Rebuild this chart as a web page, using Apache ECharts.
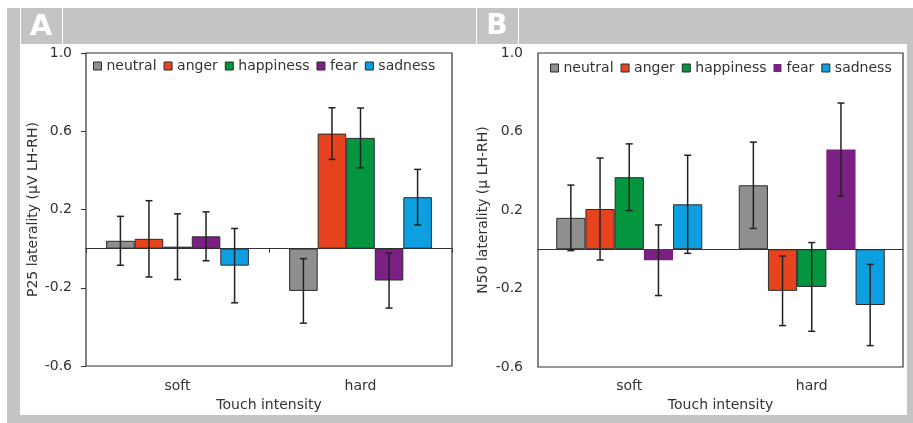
<!DOCTYPE html>
<html>
<head>
<meta charset="utf-8">
<script src="https://cdn.jsdelivr.net/npm/echarts@6/dist/echarts.min.js"></script>
<style>
html,body{margin:0;padding:0;background:#fff;}
#chart{width:913px;height:423px;}
</style>
</head>
<body>
<div id="chart"></div>
<script>
// ---- data ----
const categories = ['soft', 'hard'];
const emotions = ['neutral', 'anger', 'happiness', 'fear', 'sadness'];
const yTicks = [-0.6, -0.2, 0.2, 0.6, 1.0];

// Panel A: P25 laterality (values per emotion: [soft, hard])
const neutralA   = [0.040, -0.216];
const angerA     = [0.050,  0.588];
const happinessA = [0.010,  0.566];
const fearA      = [0.063, -0.163];
const sadnessA   = [-0.087, 0.263];
const neutralErrA   = [0.125, 0.165];
const angerErrA     = [0.195, 0.132];
const happinessErrA = [0.168, 0.153];
const fearErrA      = [0.125, 0.141];
const sadnessErrA   = [0.190, 0.142];

// Panel B: N50 laterality
const neutralB   = [0.160,  0.326];
const angerB     = [0.205, -0.212];
const happinessB = [0.367, -0.192];
const fearB      = [-0.056, 0.508];
const sadnessB   = [0.229, -0.284];
const neutralErrB   = [0.167, 0.220];
const angerErrB     = [0.260, 0.177];
const happinessErrB = [0.170, 0.226];
const fearErrB      = [0.180, 0.237];
const sadnessErrB   = [0.250, 0.207];

// ---- styling ----
const colors = ['#8f8f8f', '#e8431f', '#03963f', '#7b2184', '#0e9fe0'];
const FONT = 'DejaVu Sans';
const TXT = '#333333';
const EDGE = '#2a2a2a';
const gapA = 0.22, gapB = 0.20;

const valsA = [neutralA, angerA, happinessA, fearA, sadnessA];
const errsA = [neutralErrA, angerErrA, happinessErrA, fearErrA, sadnessErrA];
const valsB = [neutralB, angerB, happinessB, fearB, sadnessB];
const errsB = [neutralErrB, angerErrB, happinessErrB, fearErrB, sadnessErrB];

function errData(vals, errs) {
  const out = [];
  vals.forEach((arr, k) => arr.forEach((v, c) => out.push([c, v, errs[k][c], k])));
  return out;
}
function errRender(gap) {
  return function (params, api) {
    const c = api.value(0), v = api.value(1), e = api.value(2), k = api.value(3);
    const band = api.size([1, 0])[0];
    const bw = band * (1 - gap) / 5;
    const x = api.coord([c, 0])[0] + (k - 2) * bw;
    const yt = api.coord([c, v + e])[1];
    const yb = api.coord([c, v - e])[1];
    const hw = 3.5;
    const st = { stroke: '#222', lineWidth: 1.5 };
    return { type: 'group', children: [
      { type: 'line', shape: { x1: x, y1: yt, x2: x, y2: yb }, style: st },
      { type: 'line', shape: { x1: x - hw, y1: yt, x2: x + hw, y2: yt }, style: st },
      { type: 'line', shape: { x1: x - hw, y1: yb, x2: x + hw, y2: yb }, style: st }
    ]};
  };
}

function yAxisCfg(grid, name, nameGap, showTick, margin) {
  return {
    type: 'value', gridIndex: grid, min: -0.6, max: 1.0,
    name: name, nameLocation: 'middle', nameGap: nameGap,
    nameTextStyle: { fontFamily: FONT, fontSize: 14, color: TXT },
    axisLine: { show: false },
    axisTick: { show: showTick, length: 5, lineStyle: { color: '#333', width: 1 }, customValues: yTicks },
    axisLabel: { fontFamily: FONT, fontSize: 14, color: TXT, margin: margin,
      customValues: yTicks, formatter: v => Number(v).toFixed(1) },
    splitLine: { show: false }
  };
}

const series = [];
emotions.forEach((name, k) => {
  series.push({
    type: 'bar', name: name, xAxisIndex: 0, yAxisIndex: 0, data: valsA[k],
    barGap: '0%', barCategoryGap: (gapA * 100) + '%',
    itemStyle: { color: colors[k], borderColor: EDGE, borderWidth: 1 },
    emphasis: { disabled: true }
  });
});
emotions.forEach((name, k) => {
  series.push({
    type: 'bar', name: name, xAxisIndex: 2, yAxisIndex: 1, data: valsB[k],
    barGap: '0%', barCategoryGap: (gapB * 100) + '%',
    itemStyle: { color: colors[k], borderColor: EDGE, borderWidth: k === 3 ? 0 : 1 },
    emphasis: { disabled: true }
  });
});
series.push({ type: 'custom', xAxisIndex: 0, yAxisIndex: 0, z: 5, silent: true,
  renderItem: errRender(gapA), data: errData(valsA, errsA) });
series.push({ type: 'custom', xAxisIndex: 2, yAxisIndex: 1, z: 5, silent: true,
  renderItem: errRender(gapB), data: errData(valsB, errsB) });

function legendCfg(left, top, gridIdx) {
  return {
    left: left, top: top, padding: 0, itemGap: 7, itemWidth: 8, itemHeight: 8, icon: 'rect',
    textStyle: { fontFamily: FONT, fontSize: 14, color: TXT },
    itemStyle: { borderColor: EDGE, borderWidth: 1 },
    data: emotions.map((n, k) => (gridIdx === 1 && k === 3)
      ? { name: n, itemStyle: { borderWidth: 0 } } : { name: n }),
    selectedMode: false
  };
}

const option = {
  animation: false,
  textStyle: { fontFamily: FONT },
  graphic: [
    { type: 'rect', z: -10, shape: { x: 7, y: 8, width: 906, height: 415 }, style: { fill: '#c4c4c4' } },
    { type: 'rect', z: -9, shape: { x: 20, y: 44, width: 887, height: 371 }, style: { fill: '#ffffff' } },
    { type: 'rect', z: -9, shape: { x: 20, y: 8, width: 1, height: 36 }, style: { fill: '#ffffff' } },
    { type: 'rect', z: -9, shape: { x: 62, y: 8, width: 1, height: 36 }, style: { fill: '#ffffff' } },
    { type: 'rect', z: -9, shape: { x: 476, y: 8, width: 1, height: 36 }, style: { fill: '#ffffff' } },
    { type: 'rect', z: -9, shape: { x: 518, y: 8, width: 1, height: 36 }, style: { fill: '#ffffff' } },
    { type: 'text', z: -8, x: 41, y: 27, style: { text: 'A', fill: '#ffffff', font: 'bold 29px "DejaVu Sans"', align: 'center', verticalAlign: 'middle' } },
    { type: 'text', z: -8, x: 497, y: 27, style: { text: 'B', fill: '#ffffff', font: 'bold 28px "DejaVu Sans"', align: 'center', verticalAlign: 'middle' } }
  ],
  legend: [legendCfg(93, 59, 0), legendCfg(550, 61, 1)],
  grid: [
    { left: 86, top: 53, width: 366, height: 313, show: true, borderColor: '#333', borderWidth: 1.2, backgroundColor: 'transparent' },
    { left: 538, top: 53, width: 365, height: 314, show: true, borderColor: '#333', borderWidth: 1.2, backgroundColor: 'transparent' }
  ],
  xAxis: [
    { type: 'category', gridIndex: 0, data: categories, position: 'bottom',
      axisLine: { onZero: true, lineStyle: { color: '#333', width: 1.2 } },
      axisTick: { show: true, length: 4, lineStyle: { color: '#333' } },
      axisLabel: { show: false } },
    { type: 'category', gridIndex: 0, data: categories, position: 'bottom',
      name: 'Touch intensity', nameLocation: 'middle', nameGap: 31,
      nameTextStyle: { fontFamily: FONT, fontSize: 14, color: TXT },
      axisLine: { show: false, onZero: false }, axisTick: { show: false },
      axisLabel: { fontFamily: FONT, fontSize: 14, color: TXT, margin: 13 } },
    { type: 'category', gridIndex: 1, data: categories, position: 'bottom',
      axisLine: { onZero: true, lineStyle: { color: '#333', width: 1.2 } },
      axisTick: { show: false },
      axisLabel: { show: false } },
    { type: 'category', gridIndex: 1, data: categories, position: 'bottom',
      name: 'Touch intensity', nameLocation: 'middle', nameGap: 30,
      nameTextStyle: { fontFamily: FONT, fontSize: 14, color: TXT },
      axisLine: { show: false, onZero: false }, axisTick: { show: false },
      axisLabel: { fontFamily: FONT, fontSize: 14, color: TXT, margin: 12 } }
  ],
  yAxis: [
    yAxisCfg(0, 'P25 laterality (\u03bcV LH-RH)', 46, true, 14),
    yAxisCfg(1, 'N50 laterality (\u03bc LH-RH)', 48, false, 15)
  ],
  series: series
};

const chart = echarts.init(document.getElementById('chart'), null, { renderer: 'canvas' });
chart.setOption(option);
</script>
</body>
</html>
